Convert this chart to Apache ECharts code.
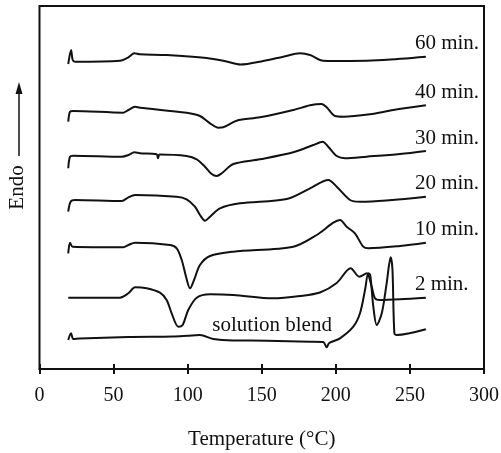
<!DOCTYPE html>
<html>
<head>
<meta charset="utf-8">
<script src="https://cdn.jsdelivr.net/npm/echarts@6/dist/echarts.min.js"></script>
<style>
  html, body { margin: 0; padding: 0; background: #fff; }
  #chart { width: 501px; height: 453px; }
</style>
</head>
<body>
<div id="chart"></div>
<script>
// DSC traces, temperature in °C vs. offset heat flow (arbitrary units, endo up)
const xTicks = [0, 50, 100, 150, 200, 250, 300];

const t60 = [19.4, 21.3, 22.4, 24, 54.3, 60, 64, 67.8, 85.8, 112.8, 126.3, 135.5, 151, 164.5, 175.8, 182.6, 191.5, 209.6, 232, 260.8];
const y60 = [305, 319, 309, 307.3, 308.3, 311.7, 315.7, 314.7, 314, 311, 307.5, 304.5, 308, 312.3, 315.7, 314, 308.3, 308, 309, 312.3];

const t40 = [19.4, 20.6, 22.8, 56.6, 60, 64.5, 67.8, 99.3, 108.3, 115.1, 120.7, 124, 133, 148.8, 171.3, 182.6, 190.4, 193.8, 199.4, 205, 223, 238.8, 260.8];
const y40 = [247.3, 257.3, 258, 256.3, 259, 262.3, 261.3, 256.3, 253, 245.7, 241.3, 241.7, 248.3, 251.7, 259, 263.7, 265, 261.7, 253, 252.3, 254.7, 259, 263.7];

const t30 = [19.4, 20.6, 22.8, 55.5, 60, 64, 67.8, 79, 80, 81, 99.3, 106.1, 111.7, 116.2, 119.6, 123, 130.8, 148.8, 171.3, 184.8, 191.1, 194.9, 200.6, 206.2, 220.8, 243.3, 260.8];
const y30 = [200.7, 212.3, 213.3, 212.3, 214, 216.7, 215.7, 214.7, 210.7, 214.5, 213, 209.7, 202.3, 195, 193, 195.7, 205, 209.7, 216.7, 224, 227.3, 222.3, 213, 210.7, 212.3, 215, 218];

const t20 = [19.4, 21, 24, 55.5, 60, 64.5, 92.6, 99.3, 104.9, 108.3, 111.7, 115.1, 121.8, 135.3, 166.8, 182.6, 194.9, 200.6, 209.6, 216.3, 260.8];
const y20 = [157.3, 167.3, 169, 168, 171.7, 174, 172.3, 169.7, 162.3, 154, 148.3, 152.3, 160.7, 165.7, 170, 180.7, 189, 182.3, 169, 167.3, 172.3];

const t10 = [19.4, 20.6, 22.4, 56.6, 60, 64.5, 88.1, 92.6, 96, 98.9, 101.6, 104.3, 108.3, 115.1, 130.8, 171.3, 187.1, 198.3, 202.8, 207.3, 212.9, 218.5, 221.9, 243.3, 260.8];
const y10 = [115.7, 126.3, 122.3, 121.7, 124, 126.3, 124, 120.7, 109, 92.3, 80.7, 89, 104, 113, 117.3, 122.3, 134, 146.3, 149, 142.3, 135.7, 122.3, 120.7, 123, 126.3];

const t2 = [19.4, 54.3, 60, 64.5, 72.3, 81.3, 85.8, 89.2, 93.7, 96.6, 100.4, 106.1, 115.1, 130.8, 157.8, 175.8, 189.3, 200.6, 210, 215.8, 220.8, 224.2, 226.4, 229.8, 243.3, 260.8];
const y2 = [71.3, 71.3, 75.7, 81.7, 80.7, 76.3, 69, 55.7, 42.3, 44, 59, 71.3, 74.7, 74, 70.7, 73, 76.5, 86, 100.7, 92.3, 95.7, 82.3, 70.7, 69, 69.7, 71.3];

const tSol = [19.4, 21.3, 22.8, 27, 60, 90, 100, 108.3, 117.3, 130.8, 153.3, 182.6, 191.5, 193.8, 195.5, 202.8, 211.8, 216.3, 219.7, 221.9, 223.2, 225.3, 227.6, 231, 234.3, 237, 238.2, 239.5, 241, 260.8];
const ySol = [29, 35.7, 30, 30.5, 32, 32.5, 33.3, 34, 30, 28.5, 28.3, 27.3, 27, 21.7, 26, 30.7, 42.3, 55.7, 79, 95.7, 94, 62.3, 44, 55.7, 85.7, 111.7, 100, 35.7, 34, 39.7];

const curveNames = ['60 min.', '40 min.', '30 min.', '20 min.', '10 min.', '2 min.', 'solution blend'];
const blendLabelAt = [157, 44];

const FONT = '"Liberation Serif", "DejaVu Serif", serif';
const pairs = (t, y) => t.map((v, i) => [v, y[i]]);
const curves = [
  pairs(t60, y60), pairs(t40, y40), pairs(t30, y30), pairs(t20, y20),
  pairs(t10, y10), pairs(t2, y2), pairs(tSol, ySol)
];

const chart = echarts.init(document.getElementById('chart'));

const series = curves.map((data, i) => {
  const s = {
    name: curveNames[i],
    type: 'line',
    data: data,
    smooth: 0.3,
    symbol: 'none',
    lineStyle: { color: '#111', width: 2 },
    animation: false
  };
  if (i < 6) {
    s.endLabel = {
      show: true,
      formatter: '{a}',
      offset: [-19, -13],
      color: '#111',
      fontFamily: FONT,
      fontSize: 21
    };
  } else {
    s.markPoint = {
      symbol: 'circle',
      symbolSize: 1,
      itemStyle: { color: 'transparent' },
      label: { show: true, position: 'inside', formatter: curveNames[i], color: '#111', fontFamily: FONT, fontSize: 21 },
      data: [{ coord: blendLabelAt }]
    };
  }
  return s;
});

chart.setOption({
  backgroundColor: '#fff',
  animation: false,
  grid: {
    left: 39.5, right: 17, top: 6, bottom: 84,
    outerBoundsMode: 'none',
    show: true, borderColor: '#111', borderWidth: 2, backgroundColor: 'transparent'
  },
  xAxis: [
    {
      type: 'value', min: 0, max: 300, interval: 50,
      name: 'Temperature (°C)', nameLocation: 'middle', nameGap: 60,
      nameTextStyle: { color: '#111', fontFamily: FONT, fontSize: 21 },
      axisLine: { lineStyle: { color: '#111', width: 2 } },
      axisTick: { show: true, length: 5, lineStyle: { color: '#111', width: 2 } },
      axisLabel: { color: '#111', fontFamily: FONT, fontSize: 20, margin: 17,
        formatter: v => xTicks.includes(v) ? String(v) : '' },
      splitLine: { show: false }
    },
    {
      type: 'value', min: 0, max: 300, interval: 50, position: 'bottom',
      axisLine: { show: false },
      axisTick: { show: true, inside: true, length: 5, lineStyle: { color: '#111', width: 2 } },
      axisLabel: { show: false },
      splitLine: { show: false }
    }
  ],
  yAxis: {
    type: 'value', min: 0, max: 363,
    name: 'Endo', nameLocation: 'middle', nameGap: 12, nameRotate: 90,
    nameTextStyle: { color: '#111', fontFamily: FONT, fontSize: 21 },
    axisLine: { show: false }, axisTick: { show: false },
    axisLabel: { show: false }, splitLine: { show: false }
  },
  graphic: [
    { type: 'line', shape: { x1: 19, y1: 156, x2: 19, y2: 90 }, style: { stroke: '#111', lineWidth: 1.5 } },
    { type: 'polygon', shape: { points: [[19, 82], [15.5, 94], [22.5, 94]] }, style: { fill: '#111' } }
  ],
  series: series
});
</script>
</body>
</html>
